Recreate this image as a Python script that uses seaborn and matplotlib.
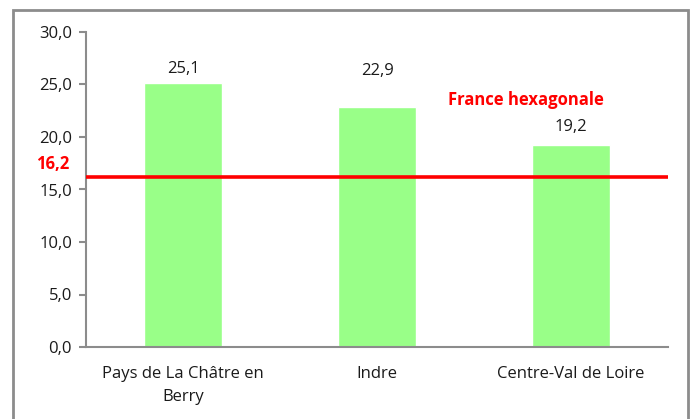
import matplotlib
matplotlib.use('Agg')
import matplotlib.pyplot as plt
import seaborn as sns
import pandas as pd
from matplotlib.patches import Rectangle

# donnees
territoires = ['Pays de La Châtre en\nBerry', 'Indre', 'Centre-Val de Loire']
valeurs = [25.1, 22.9, 19.2]
france_hexa = 16.2
yticks = [0, 5, 10, 15, 20, 25, 30]
# decalage des etiquettes au-dessus des barres (pixels)
decalages = [14, 36, 18]

df = pd.DataFrame({'territoire': territoires, 'valeur': valeurs})

sns.set_theme(style='white')
plt.rcParams['font.family'] = ['Open Sans', 'DejaVu Sans']
fs = 12

fig = plt.figure(figsize=(6.91, 4.19), dpi=100)
ax = fig.add_axes([86/691, 1 - 347/419, (668 - 86)/691, (347 - 32)/419])

# cadre exterieur
fig.patches.append(Rectangle((13/691, -0.05), (688 - 13)/691, 1.05 - 10/419,
                             transform=fig.transFigure, fill=False,
                             edgecolor='#8c8c8c', lw=2, zorder=0))

sns.barplot(data=df, x='territoire', y='valeur', color='#99ff88', saturation=1,
            width=0.4, ax=ax, zorder=2)

# etiquettes des barres
for i, v in enumerate(valeurs):
    ax.annotate(f'{v:.1f}'.replace('.', ','), (i, v), xytext=(0, decalages[i] * 0.72),
                textcoords='offset points', ha='center', va='center',
                fontsize=fs, color='#1a1a1a')

# ligne France hexagonale
ax.axhline(france_hexa, color='#ff0000', lw=2.6, zorder=3)
ax.annotate(f'{france_hexa:.1f}'.replace('.', ','), (0, france_hexa),
            xycoords=('axes fraction', 'data'), xytext=(-12, 9),
            textcoords='offset points', ha='right', va='center',
            color='#ff0000', fontsize=fs, fontweight='bold', annotation_clip=False)
ax.text(1.77, 23.5, 'France hexagonale', ha='center', va='center',
        color='#ff0000', fontsize=fs, fontweight='bold')

ax.set_xlim(-0.5, 2.5)
ax.set_ylim(0, 30)
ax.set_yticks(yticks)
ax.set_yticklabels([f'{t:.1f}'.replace('.', ',') for t in yticks], fontsize=fs, color='#1a1a1a')
ax.set_xticks(range(len(territoires)))
ax.set_xticklabels(territoires, fontsize=fs, color='#1a1a1a', linespacing=1.55)
ax.set_xticks([-0.5, 0.5, 1.5, 2.5], minor=True)
ax.tick_params(axis='x', which='major', length=0, pad=14)
ax.tick_params(axis='x', which='minor', length=5, width=1.5, color='#8c8c8c', direction='out')
ax.tick_params(axis='y', length=5, width=1.5, color='#8c8c8c', direction='out', pad=5, left=True)
ax.set_xlabel('')
ax.set_ylabel('')

for s in ['top', 'right']:
    ax.spines[s].set_visible(False)
for s in ['left', 'bottom']:
    ax.spines[s].set_color('#8c8c8c')
    ax.spines[s].set_linewidth(1.5)

plt.savefig('out.png', dpi=100)
plt.close()
